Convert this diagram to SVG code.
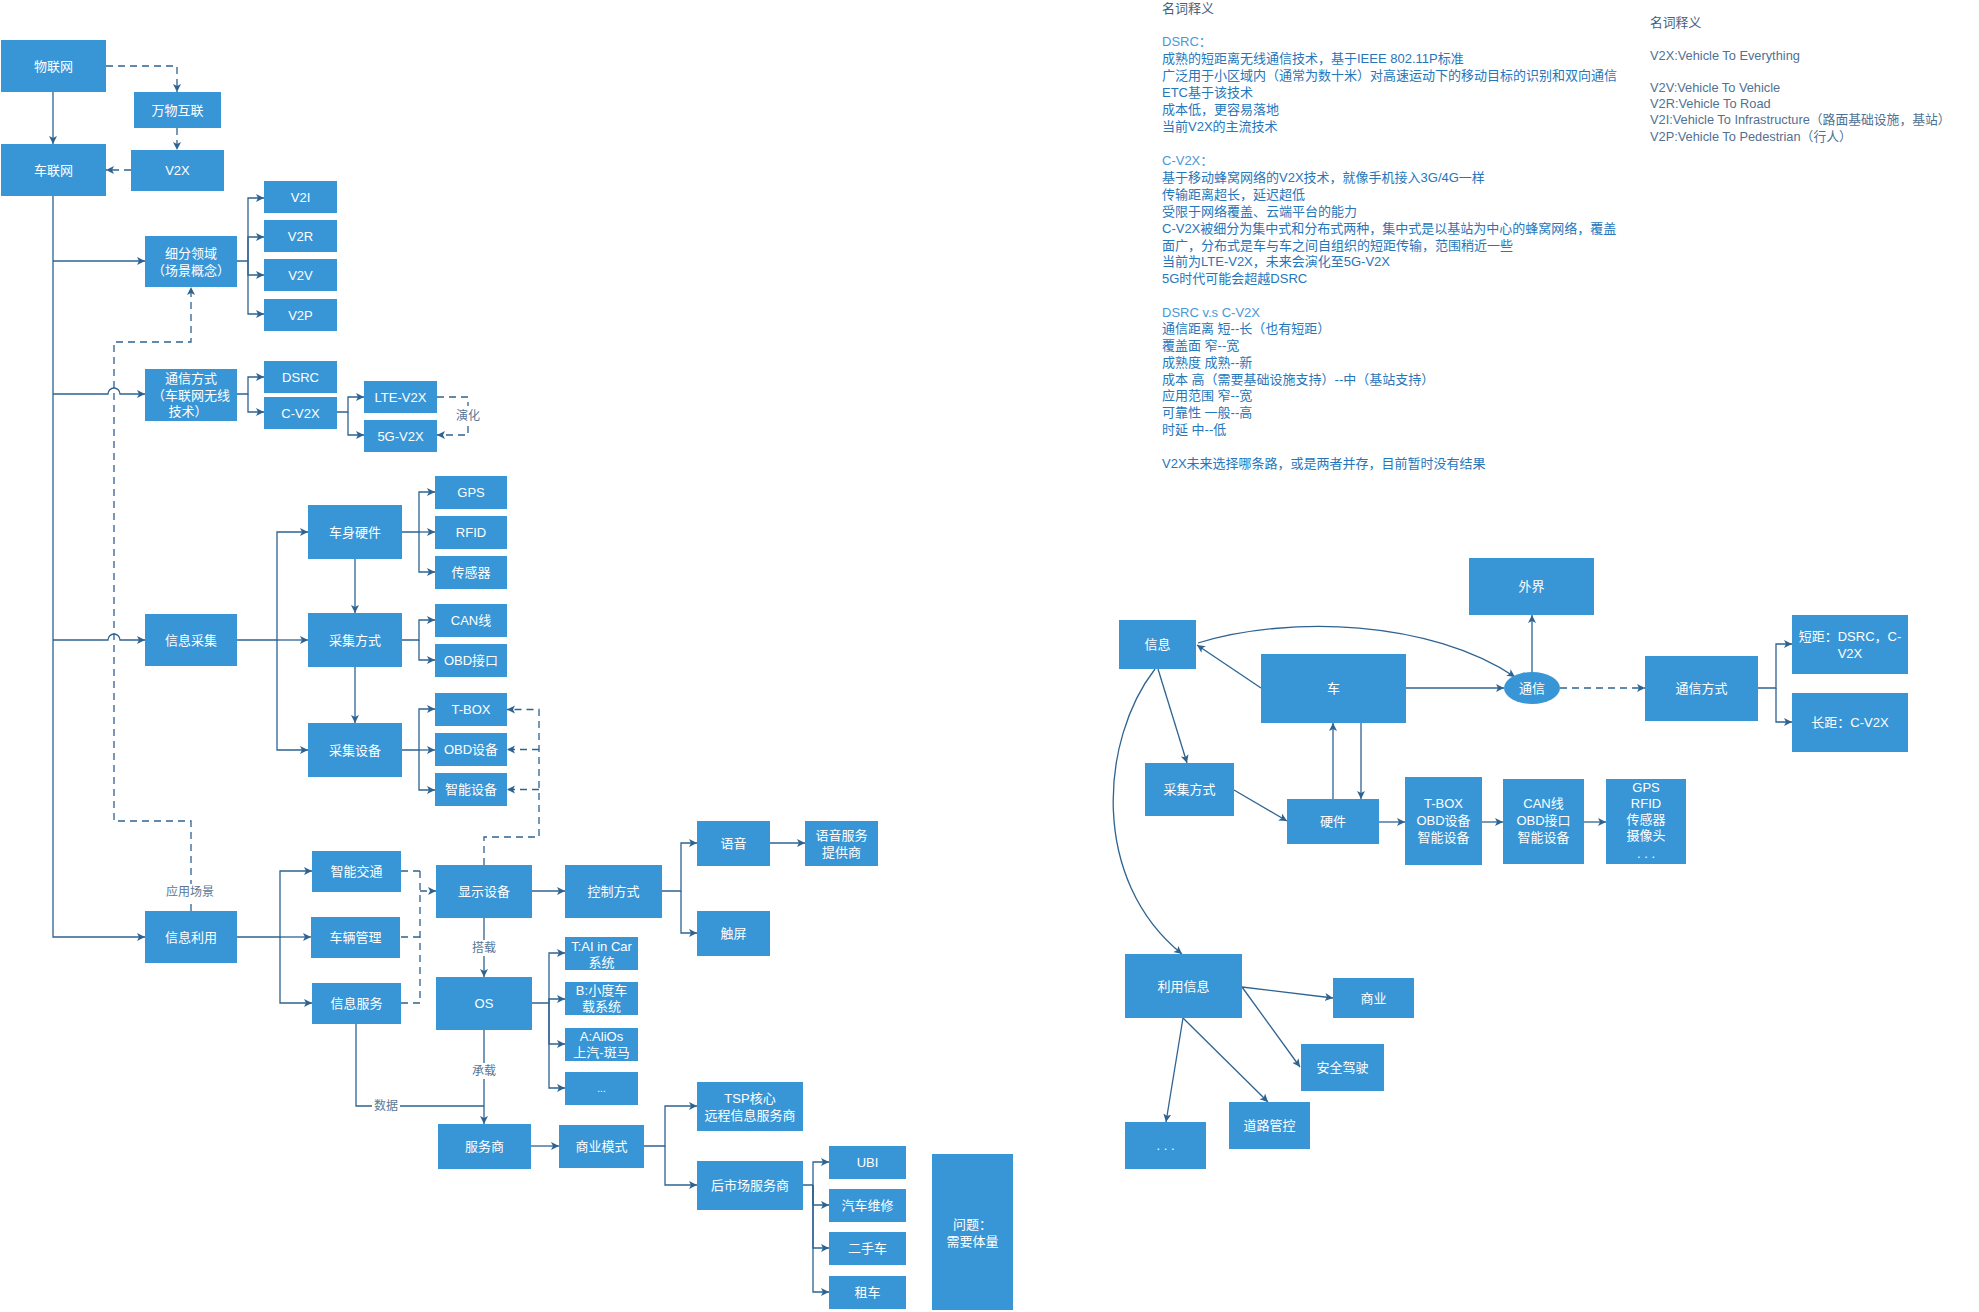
<svg xmlns="http://www.w3.org/2000/svg" width="1979" height="1312" viewBox="0 0 1979 1312">
<style>
.n rect,.n ellipse{fill:#3896d7}
.n text{fill:#fff;font-family:"Liberation Sans","Noto Sans CJK SC",sans-serif;font-size:13px;text-anchor:middle}
.c path{fill:none;stroke:#2e6391;stroke-width:1.3}
.c .d{stroke-dasharray:7,5}
.lb{fill:#5a7896;font-family:"Liberation Sans","Noto Sans CJK SC",sans-serif;font-size:12px;text-anchor:middle}
.tx{font-family:"Liberation Sans","Noto Sans CJK SC",sans-serif;font-size:13px;fill:#2676bb}
.tx .h{fill:#4a98d6}
.tx .k{fill:#44607c}
.tr{font-family:"Liberation Sans","Noto Sans CJK SC",sans-serif;font-size:12.8px;fill:#4f7194}
</style>
<defs>
<marker id="a" markerUnits="userSpaceOnUse" markerWidth="10" markerHeight="10" refX="8" refY="4" orient="auto">
<path d="M0,0 L8,4 L0,8 L2,4 z" fill="#2e6391"/>
</marker>
</defs>
<rect width="1979" height="1312" fill="#fff"/>

<g class="c">
<path d="M53,92 V144" marker-end="url(#a)"/>
<path d="M53,196 V937 H145" marker-end="url(#a)"/>
<path d="M53,261 H145" marker-end="url(#a)"/>
<path d="M53,394 H108 A6,6 0 0 1 120,394 H145" marker-end="url(#a)"/>
<path d="M53,640 H108 A6,6 0 0 1 120,640 H145" marker-end="url(#a)"/>
<path d="M237,261 H248 V198 H264" marker-end="url(#a)"/>
<path d="M248,261 V237 H264" marker-end="url(#a)"/>
<path d="M248,261 V275 H264" marker-end="url(#a)"/>
<path d="M248,261 V314 H264" marker-end="url(#a)"/>
<path d="M237,394 H248 V377 H264" marker-end="url(#a)"/>
<path d="M248,394 V412 H264" marker-end="url(#a)"/>
<path d="M337,412 H348 V397 H364" marker-end="url(#a)"/>
<path d="M348,412 V435 H364" marker-end="url(#a)"/>
<path d="M237,640 H277 V532 H308" marker-end="url(#a)"/>
<path d="M277,640 H308" marker-end="url(#a)"/>
<path d="M277,640 V750 H308" marker-end="url(#a)"/>
<path d="M402,532 H419 V492 H435" marker-end="url(#a)"/>
<path d="M419,532 H435" marker-end="url(#a)"/>
<path d="M419,532 V572 H435" marker-end="url(#a)"/>
<path d="M355,559 V613" marker-end="url(#a)"/>
<path d="M355,667 V723" marker-end="url(#a)"/>
<path d="M402,640 H419 V620 H435" marker-end="url(#a)"/>
<path d="M419,640 V660 H435" marker-end="url(#a)"/>
<path d="M402,750 H419 V709 H435" marker-end="url(#a)"/>
<path d="M419,750 H435" marker-end="url(#a)"/>
<path d="M419,750 V790 H435" marker-end="url(#a)"/>
<path d="M237,937 H280 V871 H312" marker-end="url(#a)"/>
<path d="M280,937 H311" marker-end="url(#a)"/>
<path d="M280,937 V1003 H312" marker-end="url(#a)"/>
<path d="M532,891 H565" marker-end="url(#a)"/>
<path d="M662,891 H681 V843 H697" marker-end="url(#a)"/>
<path d="M681,891 V933 H697" marker-end="url(#a)"/>
<path d="M770,843 H805" marker-end="url(#a)"/>
<path d="M484,918 V977" marker-end="url(#a)"/>
<path d="M532,1003 H549 V953 H565" marker-end="url(#a)"/>
<path d="M549,1003 V999 H565" marker-end="url(#a)"/>
<path d="M549,1003 V1044 H565" marker-end="url(#a)"/>
<path d="M549,1003 V1088 H565" marker-end="url(#a)"/>
<path d="M484,1030 V1124" marker-end="url(#a)"/>
<path d="M356,1024 V1106 H484"/>
<path d="M531,1146 H559" marker-end="url(#a)"/>
<path d="M644,1146 H665 V1106 H697" marker-end="url(#a)"/>
<path d="M665,1146 V1185 H697" marker-end="url(#a)"/>
<path d="M803,1185 H813 V1162 H829" marker-end="url(#a)"/>
<path d="M813,1185 V1205 H829" marker-end="url(#a)"/>
<path d="M813,1185 V1248 H829" marker-end="url(#a)"/>
<path d="M813,1185 V1292 H829" marker-end="url(#a)"/>
<path class="d" d="M106,66 H177 V92" marker-end="url(#a)"/>
<path class="d" d="M177,128 V150" marker-end="url(#a)"/>
<path class="d" d="M131,170 H106" marker-end="url(#a)"/>
<path class="d" d="M191,911 V821 H114 V342 H191 V287" marker-end="url(#a)"/>
<path class="d" d="M437,397 H468 V435 H437" marker-end="url(#a)"/>
<path class="d" d="M401,871 H420 M401,937 H420 M401,1003 H420 M420,871 V1003"/>
<path class="d" d="M420,891 H436" marker-end="url(#a)"/>
<path class="d" d="M484,865 V837 H539 V709.5 H507" marker-end="url(#a)"/>
<path class="d" d="M539,749.5 H507" marker-end="url(#a)"/>
<path class="d" d="M539,789.5 H507" marker-end="url(#a)"/>
<path d="M1261,688 L1197,645" marker-end="url(#a)"/>
<path d="M1198,643 C1290,615 1430,620 1515,677" marker-end="url(#a)"/>
<path d="M1158,669 L1187,763" marker-end="url(#a)"/>
<path d="M1155,669 C1100,740 1090,880 1182,954" marker-end="url(#a)"/>
<path d="M1234,790 L1287,821" marker-end="url(#a)"/>
<path d="M1333,799 V723" marker-end="url(#a)"/>
<path d="M1361,723 V799" marker-end="url(#a)"/>
<path d="M1379,822 H1405" marker-end="url(#a)"/>
<path d="M1482,822 H1503" marker-end="url(#a)"/>
<path d="M1584,822 H1606" marker-end="url(#a)"/>
<path d="M1406,688 H1504" marker-end="url(#a)"/>
<path d="M1532,672 V615" marker-end="url(#a)"/>
<path class="d" d="M1560,688 H1645" marker-end="url(#a)"/>
<path d="M1758,688 H1776 V644 H1792" marker-end="url(#a)"/>
<path d="M1776,688 V722 H1792" marker-end="url(#a)"/>
<path d="M1242,987 L1333,998" marker-end="url(#a)"/>
<path d="M1242,987 L1300,1067" marker-end="url(#a)"/>
<path d="M1183,1018 L1268,1102" marker-end="url(#a)"/>
<path d="M1183,1018 L1166,1122" marker-end="url(#a)"/>
</g>

<g id="labels">
<rect x="455" y="406" width="26" height="18" fill="#fff"/>
<text class="lb" x="468" y="420">演化</text>
<rect x="163" y="884" width="54" height="16" fill="#fff"/>
<text class="lb" x="190" y="896">应用场景</text>
<rect x="470" y="940" width="28" height="16" fill="#fff"/>
<text class="lb" x="484" y="952">搭载</text>
<rect x="470" y="1063" width="28" height="16" fill="#fff"/>
<text class="lb" x="484" y="1075">承载</text>
<rect x="372" y="1098" width="28" height="16" fill="#fff"/>
<text class="lb" x="386" y="1110">数据</text>
</g>

<g id="n-wlw" class="n"><rect x="1" y="40" width="105" height="52"/><text x="53.5" y="70.5">物联网</text></g>
<g id="n-wwhl" class="n"><rect x="134" y="92" width="87" height="36"/><text x="177.5" y="114.5">万物互联</text></g>
<g id="n-v2x" class="n"><rect x="131" y="150" width="93" height="41"/><text x="177.5" y="175">V2X</text></g>
<g id="n-clw" class="n"><rect x="1" y="144" width="105" height="52"/><text x="53.5" y="174.5">车联网</text></g>
<g id="n-xfly" class="n"><rect x="145" y="236" width="92" height="51"/><text x="191" y="257.5">细分领域</text><text x="191" y="274.5">（场景概念）</text></g>
<g id="n-v2i" class="n"><rect x="264" y="181" width="73" height="32"/><text x="300.5" y="201.5">V2I</text></g>
<g id="n-v2r" class="n"><rect x="264" y="220" width="73" height="32"/><text x="300.5" y="240.5">V2R</text></g>
<g id="n-v2v" class="n"><rect x="264" y="259" width="73" height="32"/><text x="300.5" y="279.5">V2V</text></g>
<g id="n-v2p" class="n"><rect x="264" y="299" width="73" height="32"/><text x="300.5" y="319.5">V2P</text></g>
<g id="n-txfs" class="n"><rect x="145" y="369" width="92" height="52"/><text x="191" y="382.5">通信方式</text><text x="191" y="399.5">（车联网无线</text><text x="188" y="415.5">技术）</text></g>
<g id="n-dsrc" class="n"><rect x="264" y="361" width="73" height="32"/><text x="300.5" y="381.5">DSRC</text></g>
<g id="n-cv2x" class="n"><rect x="264" y="397" width="73" height="32"/><text x="300.5" y="417.5">C-V2X</text></g>
<g id="n-lte" class="n"><rect x="364" y="381" width="73" height="32"/><text x="400.5" y="401.5">LTE-V2X</text></g>
<g id="n-5g" class="n"><rect x="364" y="420" width="73" height="32"/><text x="400.5" y="440.5">5G-V2X</text></g>
<g id="n-csyj" class="n"><rect x="308" y="505" width="94" height="54"/><text x="355" y="536.5">车身硬件</text></g>
<g id="n-cjfs" class="n"><rect x="308" y="613" width="94" height="54"/><text x="355" y="644.5">采集方式</text></g>
<g id="n-cjsb" class="n"><rect x="308" y="723" width="94" height="54"/><text x="355" y="754.5">采集设备</text></g>
<g id="n-gps" class="n"><rect x="435" y="476" width="72" height="33"/><text x="471" y="497">GPS</text></g>
<g id="n-rfid" class="n"><rect x="435" y="516" width="72" height="33"/><text x="471" y="537">RFID</text></g>
<g id="n-cgq" class="n"><rect x="435" y="556" width="72" height="33"/><text x="471" y="577">传感器</text></g>
<g id="n-can" class="n"><rect x="435" y="604" width="72" height="33"/><text x="471" y="625">CAN线</text></g>
<g id="n-obdjk" class="n"><rect x="435" y="644" width="72" height="33"/><text x="471" y="665">OBD接口</text></g>
<g id="n-tbox" class="n"><rect x="435" y="693" width="72" height="33"/><text x="471" y="714">T-BOX</text></g>
<g id="n-obdsb" class="n"><rect x="435" y="733" width="72" height="33"/><text x="471" y="754">OBD设备</text></g>
<g id="n-znsb" class="n"><rect x="435" y="773" width="72" height="33"/><text x="471" y="794">智能设备</text></g>
<g id="n-xxcj" class="n"><rect x="145" y="614" width="92" height="52"/><text x="191" y="644.5">信息采集</text></g>
<g id="n-xxly" class="n"><rect x="145" y="911" width="92" height="52"/><text x="191" y="941.5">信息利用</text></g>
<g id="n-znjt" class="n"><rect x="312" y="851" width="89" height="41"/><text x="356.5" y="876">智能交通</text></g>
<g id="n-clgl" class="n"><rect x="311" y="917" width="89" height="41"/><text x="355.5" y="942">车辆管理</text></g>
<g id="n-xxfw" class="n"><rect x="312" y="983" width="89" height="41"/><text x="356.5" y="1008">信息服务</text></g>
<g id="n-xssb" class="n"><rect x="436" y="865" width="96" height="53"/><text x="484" y="896">显示设备</text></g>
<g id="n-kzfs" class="n"><rect x="565" y="865" width="97" height="53"/><text x="613.5" y="896">控制方式</text></g>
<g id="n-os" class="n"><rect x="436" y="977" width="96" height="53"/><text x="484" y="1008">OS</text></g>
<g id="n-yy" class="n"><rect x="697" y="821" width="73" height="45"/><text x="733.5" y="848">语音</text></g>
<g id="n-cp" class="n"><rect x="697" y="911" width="73" height="45"/><text x="733.5" y="938">触屏</text></g>
<g id="n-yyfw" class="n"><rect x="805" y="821" width="73" height="45"/><text x="841.5" y="839.5">语音服务</text><text x="841.5" y="856.5">提供商</text></g>
<g id="n-os-t" class="n"><rect x="565" y="937" width="73" height="33"/><text x="601.5" y="950.5">T:AI in Car</text><text x="601.5" y="966.5">系统</text></g>
<g id="n-os-b" class="n"><rect x="565" y="982" width="73" height="33"/><text x="601.5" y="995">B:小度车</text><text x="601.5" y="1011">载系统</text></g>
<g id="n-os-a" class="n"><rect x="565" y="1028" width="73" height="33"/><text x="601.5" y="1041">A:AliOs</text><text x="601.5" y="1057">上汽-斑马</text></g>
<g id="n-os-etc" class="n"><rect x="565" y="1072" width="73" height="33"/><text x="601.5" y="1092" style="font-size:10px">...</text></g>
<g id="n-fws" class="n"><rect x="438" y="1124" width="93" height="45"/><text x="484.5" y="1151">服务商</text></g>
<g id="n-syms" class="n"><rect x="559" y="1125" width="85" height="43"/><text x="601.5" y="1151">商业模式</text></g>
<g id="n-tsp" class="n"><rect x="697" y="1082" width="106" height="49"/><text x="750" y="1102.5">TSP核心</text><text x="750" y="1119.5">远程信息服务商</text></g>
<g id="n-hsc" class="n"><rect x="697" y="1161" width="106" height="49"/><text x="750" y="1190">后市场服务商</text></g>
<g id="n-ubi" class="n"><rect x="829" y="1146" width="77" height="33"/><text x="867.5" y="1167">UBI</text></g>
<g id="n-qcwx" class="n"><rect x="829" y="1189" width="77" height="33"/><text x="867.5" y="1210">汽车维修</text></g>
<g id="n-esc" class="n"><rect x="829" y="1232" width="77" height="33"/><text x="867.5" y="1253">二手车</text></g>
<g id="n-zc" class="n"><rect x="829" y="1276" width="77" height="33"/><text x="867.5" y="1297">租车</text></g>
<g id="n-wt" class="n"><rect x="932" y="1154" width="81" height="156"/><text x="972.5" y="1228.5">问题：</text><text x="972.5" y="1245.5">需要体量</text></g>

<g id="r-xx" class="n"><rect x="1119" y="620" width="77" height="49"/><text x="1157.5" y="649">信息</text></g>
<g id="r-wj" class="n"><rect x="1469" y="558" width="125" height="57"/><text x="1531.5" y="591">外界</text></g>
<g id="r-che" class="n"><rect x="1261" y="654" width="145" height="69"/><text x="1333.5" y="693">车</text></g>
<g id="r-tx" class="n"><ellipse cx="1532" cy="688" rx="28" ry="16"/><text x="1532" y="692.5">通信</text></g>
<g id="r-txfs" class="n"><rect x="1645" y="656" width="113" height="65"/><text x="1701.5" y="692.5">通信方式</text></g>
<g id="r-dj" class="n"><rect x="1792" y="615" width="116" height="59"/><text x="1850" y="640.5">短距：DSRC，C-</text><text x="1850" y="657.5">V2X</text></g>
<g id="r-cj" class="n"><rect x="1792" y="693" width="116" height="59"/><text x="1850" y="726.5">长距：C-V2X</text></g>
<g id="r-cjfs" class="n"><rect x="1145" y="763" width="89" height="53"/><text x="1189.5" y="794">采集方式</text></g>
<g id="r-yj" class="n"><rect x="1287" y="799" width="92" height="45"/><text x="1333" y="826">硬件</text></g>
<g id="r-tbox" class="n"><rect x="1405" y="777" width="77" height="88"/><text x="1443.5" y="808">T-BOX</text><text x="1443.5" y="825">OBD设备</text><text x="1443.5" y="842">智能设备</text></g>
<g id="r-can" class="n"><rect x="1503" y="779" width="81" height="85"/><text x="1543.5" y="808">CAN线</text><text x="1543.5" y="825">OBD接口</text><text x="1543.5" y="842">智能设备</text></g>
<g id="r-gps" class="n"><rect x="1606" y="779" width="80" height="85"/><text x="1646" y="792">GPS</text><text x="1646" y="808">RFID</text><text x="1646" y="824">传感器</text><text x="1646" y="840">摄像头</text><text x="1646" y="858">. . .</text></g>
<g id="r-lyxx" class="n"><rect x="1125" y="954" width="117" height="64"/><text x="1183.5" y="990.5">利用信息</text></g>
<g id="r-sy" class="n"><rect x="1333" y="978" width="81" height="40"/><text x="1373.5" y="1002.5">商业</text></g>
<g id="r-aqjs" class="n"><rect x="1301" y="1044" width="83" height="47"/><text x="1342.5" y="1072">安全驾驶</text></g>
<g id="r-dlgk" class="n"><rect x="1229" y="1102" width="81" height="47"/><text x="1269.5" y="1130">道路管控</text></g>
<g id="r-etc" class="n"><rect x="1125" y="1122" width="81" height="47"/><text x="1165.5" y="1150">. . .</text></g>

<g id="notes-left" class="tx">
<text class="k" x="1162" y="13">名词释义</text>
<text class="h" x="1162" y="46">DSRC：</text>
<text x="1162" y="63">成熟的短距离无线通信技术，基于IEEE 802.11P标准</text>
<text x="1162" y="80">广泛用于小区域内（通常为数十米）对高速运动下的移动目标的识别和双向通信</text>
<text x="1162" y="97">ETC基于该技术</text>
<text x="1162" y="114">成本低，更容易落地</text>
<text x="1162" y="131">当前V2X的主流技术</text>
<text class="h" x="1162" y="165">C-V2X：</text>
<text x="1162" y="182">基于移动蜂窝网络的V2X技术，就像手机接入3G/4G一样</text>
<text x="1162" y="199">传输距离超长，延迟超低</text>
<text x="1162" y="216">受限于网络覆盖、云端平台的能力</text>
<text x="1162" y="233">C-V2X被细分为集中式和分布式两种，集中式是以基站为中心的蜂窝网络，覆盖</text>
<text x="1162" y="250">面广，分布式是车与车之间自组织的短距传输，范围稍近一些</text>
<text x="1162" y="266">当前为LTE-V2X，未来会演化至5G-V2X</text>
<text x="1162" y="283">5G时代可能会超越DSRC</text>
<text class="h" x="1162" y="317">DSRC v.s C-V2X</text>
<text x="1162" y="333">通信距离 短--长（也有短距）</text>
<text x="1162" y="350">覆盖面 窄--宽</text>
<text x="1162" y="367">成熟度 成熟--新</text>
<text x="1162" y="384">成本 高（需要基础设施支持）--中（基站支持）</text>
<text x="1162" y="400">应用范围 窄--宽</text>
<text x="1162" y="417">可靠性 一般--高</text>
<text x="1162" y="434">时延 中--低</text>
<text x="1162" y="468">V2X未来选择哪条路，或是两者并存，目前暂时没有结果</text>
</g>

<g id="notes-right" class="tr">
<text x="1650" y="27" fill="#44607c">名词释义</text>
<text x="1650" y="60">V2X:Vehicle To Everything</text>
<text x="1650" y="92">V2V:Vehicle To Vehicle</text>
<text x="1650" y="108">V2R:Vehicle To Road</text>
<text x="1650" y="124">V2I:Vehicle To Infrastructure（路面基础设施，基站）</text>
<text x="1650" y="141">V2P:Vehicle To Pedestrian（行人）</text>
</g>
</svg>
